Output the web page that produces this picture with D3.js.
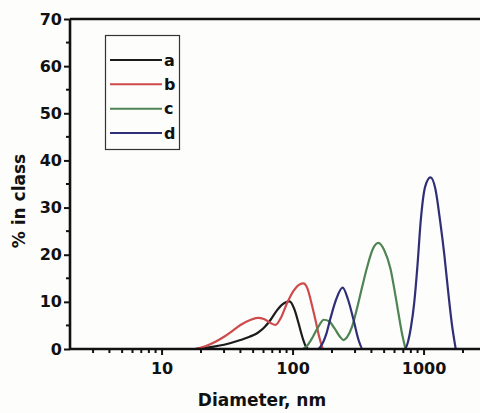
<!DOCTYPE html>
<html>
<head>
<meta charset="utf-8">
<script src="https://cdn.jsdelivr.net/npm/d3@7"></script>
<style>
  html, body { margin: 0; padding: 0; background: #fdfdfc; }
  svg { display: block; }
  text { font-family: "DejaVu Sans", "Liberation Sans", Arial, sans-serif; font-weight: bold; fill: #111; }
</style>
</head>
<body>
<svg id="chart" width="480" height="413"></svg>
<script>
// Particle size distributions (% in class vs. diameter, nm)
const seriesNames = ["a", "b", "c", "d"];
const seriesColors = ["#1c1c1c", "#cf4a4a", "#4f8453", "#2f2f78"];

const diamA = [18, 21, 25, 30, 40, 47, 54, 61, 68, 76, 86, 95, 103, 111, 118, 125, 131];
const valA  = [0, 0.2, 0.5, 0.9, 1.9, 2.6, 3.4, 4.6, 6.2, 8.2, 9.7, 10.1, 8.5, 5.5, 2.8, 0.8, 0];

const diamB = [18, 21.6, 26, 30, 35, 40, 47, 54, 61, 68, 74, 82, 91, 102, 113, 121, 130, 140, 150, 160, 170];
const valB  = [0, 0.6, 1.6, 2.6, 3.9, 5.1, 6.1, 6.6, 6.3, 5.5, 5.1, 6.8, 9.8, 12.4, 13.7, 13.9, 12.8, 9.5, 6.0, 2.5, 0];

const diamC = [120, 130, 143, 158, 173, 190, 210, 230, 245, 262, 285, 313, 340, 372, 410, 452, 500, 559, 600, 642, 690, 729];
const valC  = [0, 0.8, 2.6, 4.8, 6.2, 5.9, 4.3, 2.6, 1.9, 2.6, 4.8, 9.0, 13.2, 17.5, 21.2, 22.5, 21.0, 17.0, 12.5, 7.7, 2.8, 0];

const diamD = [158, 168, 180, 195, 215, 241, 265, 292, 320, 343, 720, 760, 800, 850, 900, 950, 1030, 1130, 1230, 1340, 1440, 1530, 1650, 1760];
const valD  = [0, 1.0, 3.0, 6.6, 10.5, 13, 10.5, 6.2, 1.8, 0, 0, 1.5, 4.5, 10, 18, 27, 34.5, 36.4, 34, 27, 20, 13, 5, 0];

const seriesDiam = [diamA, diamB, diamC, diamD];
const seriesVal = [valA, valB, valC, valD];

const xTickValues = [10, 100, 1000];
const yTickValues = [0, 10, 20, 30, 40, 50, 60, 70];

const svg = d3.select("#chart");
const plotLeft = 70, plotTop = 19, plotBottom = 349, plotRight = 480;
const x = d3.scaleLog().domain([2, 3000]).range([plotLeft, plotLeft + 131 * Math.log10(1500)]);
const y = d3.scaleLinear().domain([0, 70]).range([plotBottom, plotTop]);

svg.append("defs").append("clipPath").attr("id", "plotclip")
  .append("rect").attr("x", plotLeft).attr("y", plotTop - 2)
  .attr("width", plotRight - plotLeft).attr("height", plotBottom - plotTop + 2);

// Curves
const line = d3.line()
  .x(d => x(d[0]))
  .y(d => y(d[1]))
  .curve(d3.curveMonotoneX);

const plot = svg.append("g").attr("clip-path", "url(#plotclip)");
seriesNames.forEach((name, i) => {
  const pts = seriesDiam[i].map((dm, j) => [dm, seriesVal[i][j]]);
  plot.append("path")
    .datum(pts)
    .attr("fill", "none")
    .attr("stroke", seriesColors[i])
    .attr("stroke-width", 2.2)
    .attr("stroke-linejoin", "round")
    .attr("d", line);
});

// Minor log ticks on the x axis
const minorX = [];
[1, 10, 100, 1000].forEach(p => {
  for (let k = 2; k <= 9; k++) {
    const v = p * k;
    if (v > 2 && v < 3000 && !xTickValues.includes(v)) minorX.push(v);
  }
});

const xAxis = svg.append("g").attr("transform", `translate(0,${plotBottom})`);
xAxis.append("line").attr("x1", plotLeft).attr("x2", plotRight).attr("y1", 0).attr("y2", 0)
  .attr("stroke", "#111").attr("stroke-width", 2.6);
xAxis.selectAll(".minor").data(minorX).enter().append("line")
  .attr("x1", d => x(d)).attr("x2", d => x(d)).attr("y1", 0).attr("y2", 4)
  .attr("stroke", "#111").attr("stroke-width", 2);
xAxis.call(d3.axisBottom(x).tickValues(xTickValues).tickFormat(d3.format("d")).tickSize(6).tickPadding(5))
  .call(g => g.select(".domain").remove())
  .call(g => g.selectAll(".tick line").attr("stroke", "#111").attr("stroke-width", 2))
  .call(g => g.selectAll(".tick text").attr("font-size", 16).attr("font-family", "DejaVu Sans").attr("font-weight", "bold").attr("fill", "#111").attr("dy", "0.9em"));

// Y axis with minor ticks
const minorY = d3.range(5, 70, 10);
const yAxis = svg.append("g").attr("transform", `translate(${plotLeft},0)`);
yAxis.append("line").attr("x1", 0).attr("x2", 0).attr("y1", plotTop).attr("y2", plotBottom)
  .attr("stroke", "#111").attr("stroke-width", 2.6);
yAxis.selectAll(".minor").data(minorY).enter().append("line")
  .attr("x1", -4).attr("x2", 0).attr("y1", d => y(d)).attr("y2", d => y(d))
  .attr("stroke", "#111").attr("stroke-width", 2);
yAxis.call(d3.axisLeft(y).tickValues(yTickValues).tickSize(6).tickPadding(2))
  .call(g => g.select(".domain").remove())
  .call(g => g.selectAll(".tick line").attr("stroke", "#111").attr("stroke-width", 2))
  .call(g => g.selectAll(".tick text").attr("font-size", 16).attr("font-family", "DejaVu Sans").attr("font-weight", "bold").attr("fill", "#111"));

// Top frame line
svg.append("line").attr("x1", plotLeft).attr("x2", plotRight).attr("y1", plotTop).attr("y2", plotTop)
  .attr("stroke", "#111").attr("stroke-width", 2.6);

// Axis titles
svg.append("text").attr("x", 262).attr("y", 406).attr("text-anchor", "middle")
  .attr("font-size", 17).text("Diameter, nm");
svg.append("text").attr("transform", "translate(25,201) rotate(-90)").attr("text-anchor", "middle")
  .attr("font-size", 17).text("% in class");

// Legend
const lg = svg.append("g");
lg.append("rect").attr("x", 105.5).attr("y", 35.5).attr("width", 74).attr("height", 114)
  .attr("fill", "none").attr("stroke", "#333").attr("stroke-width", 1.2);
const legendY = d3.scalePoint().domain(seriesNames).range([60, 133]);
seriesNames.forEach((name, i) => {
  const yy = legendY(name);
  lg.append("line").attr("x1", 110).attr("x2", 162).attr("y1", yy).attr("y2", yy)
    .attr("stroke", seriesColors[i]).attr("stroke-width", 2);
  lg.append("text").attr("x", 164).attr("y", yy).attr("dy", "0.36em")
    .attr("font-size", 16).text(name);
});
</script>
</body>
</html>
